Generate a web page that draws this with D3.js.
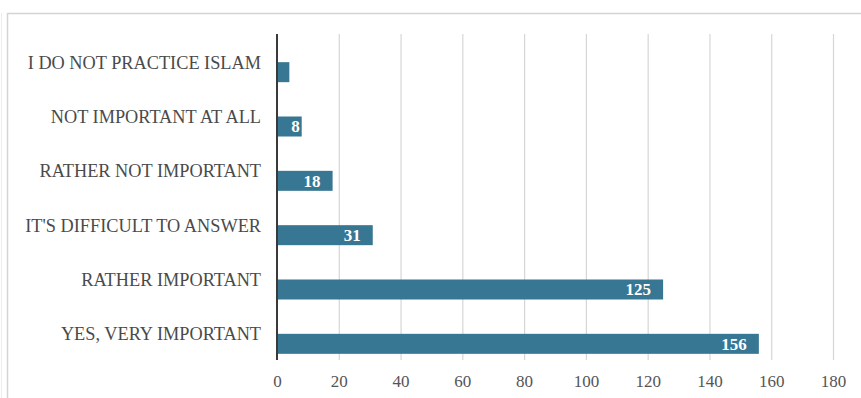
<!DOCTYPE html>
<html>
<head>
<meta charset="utf-8">
<script src="https://cdn.jsdelivr.net/npm/d3@7"></script>
<style>
  html, body { margin: 0; padding: 0; background: #fff; }
  svg { display: block; }
</style>
</head>
<body>
<svg id="chart" width="861" height="398"></svg>
<script>
// Survey answers, top to bottom as shown
const categories = [
  "I DO NOT PRACTICE ISLAM",
  "NOT IMPORTANT AT ALL",
  "RATHER NOT IMPORTANT",
  "IT'S DIFFICULT TO ANSWER",
  "RATHER IMPORTANT",
  "YES, VERY IMPORTANT"
];
const counts = [4, 8, 18, 31, 125, 156];
const showLabel = [false, true, true, true, true, true];
const xTicks = [0, 20, 40, 60, 80, 100, 120, 140, 160, 180];

const rows = categories.map((c, i) => ({ cat: c, value: counts[i], labelled: showLabel[i] }));

const SERIF = "'Liberation Serif', 'Times New Roman', Times, serif";

const svg = d3.select("#chart").style("font-family", SERIF);
const W = 861, H = 398;

// outer frame (top and left edges)
svg.append("line").attr("x1", 1.5).attr("x2", 1.5).attr("y1", 13).attr("y2", H)
  .attr("stroke", "#ececec").attr("stroke-width", 1);
svg.append("line").attr("x1", 7.5).attr("x2", W).attr("y1", 13.5).attr("y2", 13.5)
  .attr("stroke", "#d4d4d4").attr("stroke-width", 1.5);
svg.append("line").attr("x1", 7.5).attr("x2", 7.5).attr("y1", 13).attr("y2", H)
  .attr("stroke", "#d4d4d4").attr("stroke-width", 1.5);

const plot = { left: 277, right: 833, top: 34, bottom: 360 };

const x = d3.scaleLinear().domain([0, 180]).range([plot.left, plot.right]);
const y = d3.scaleBand().domain(categories).range([plot.top, plot.bottom]).padding(0);

const barH = 20;
const barShift = 11;   // bars sit slightly below the category centre
const barMid = d => y(d.cat) + y.bandwidth() / 2 + barShift;

// vertical gridlines
svg.append("g").selectAll("line").data(xTicks.slice(1)).join("line")
  .attr("x1", d => x(d) + 0.5).attr("x2", d => x(d) + 0.5)
  .attr("y1", plot.top).attr("y2", plot.bottom)
  .attr("stroke", "#d6d6d6").attr("stroke-width", 1.2);

// bars
svg.append("g").selectAll("rect").data(rows).join("rect")
  .attr("x", x(0))
  .attr("y", d => barMid(d) - barH / 2)
  .attr("width", d => x(d.value) - x(0))
  .attr("height", barH)
  .attr("fill", "#387793");

// value labels inside bar ends
svg.append("g").selectAll("text").data(rows.filter(d => d.labelled)).join("text")
  .attr("x", d => (x(d.value) - x(0) < 30) ? x(d.value) - 2 : x(d.value) - 12)
  .attr("y", barMid)
  .attr("dy", "0.35em")
  .attr("text-anchor", "end")
  .attr("fill", "#ffffff")
  .style("font-family", SERIF)
  .style("font-weight", "bold")
  .style("font-size", "17px")
  .text(d => d.value);

// value axis line at zero
svg.append("line").attr("x1", x(0)).attr("x2", x(0))
  .attr("y1", plot.top).attr("y2", plot.bottom)
  .attr("stroke", "#3a3a3a").attr("stroke-width", 2);

// category labels
svg.append("g").selectAll("text").data(categories).join("text")
  .attr("x", 261)
  .attr("y", d => y(d) + y.bandwidth() / 2 + 1)
  .attr("dy", "0.35em")
  .attr("text-anchor", "end")
  .attr("fill", "#4a4a4a")
  .style("font-family", SERIF)
  .style("font-size", "18.3px")
  .text(d => d);

// x tick labels
const xAxis = d3.axisBottom(x).tickValues(xTicks).tickSize(0).tickPadding(0);
const gx = svg.append("g").attr("transform", `translate(0, ${plot.bottom})`).call(xAxis);
gx.select(".domain").remove();
gx.selectAll("text")
  .attr("y", 27)
  .attr("dy", 0)
  .attr("fill", "#555555")
  .style("font-family", SERIF)
  .style("font-size", "17px");
</script>
</body>
</html>
